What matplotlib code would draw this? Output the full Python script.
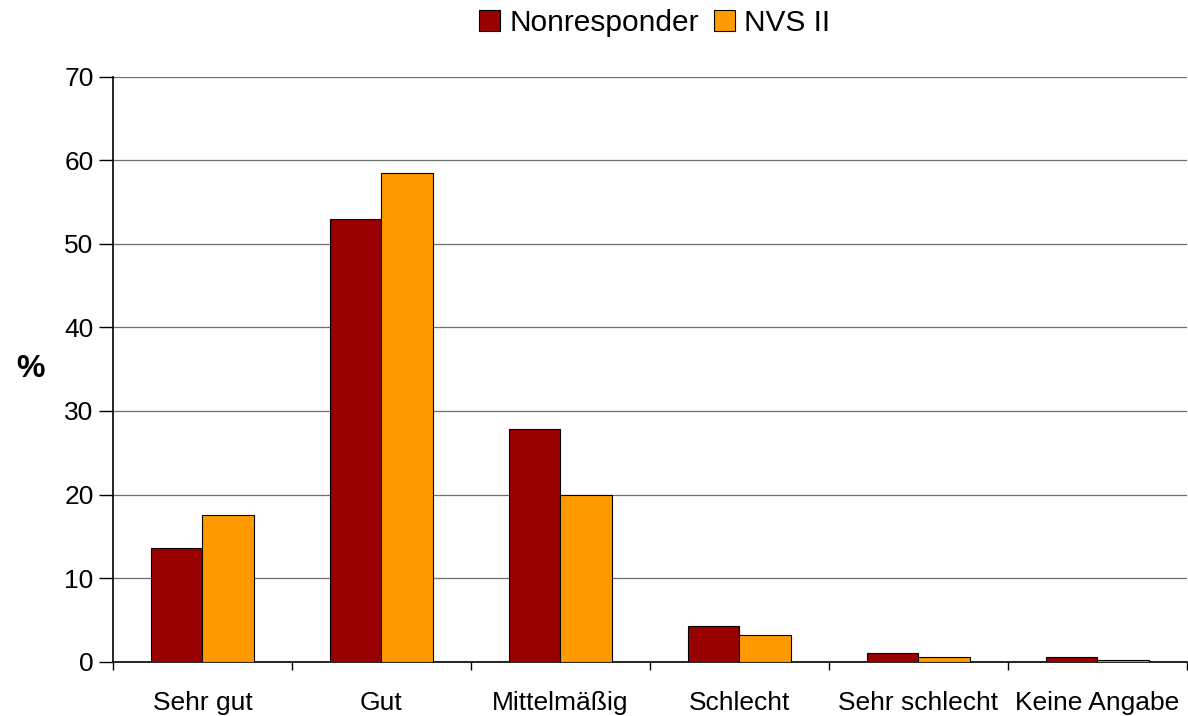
import matplotlib.pyplot as plt
import numpy as np
from matplotlib.patches import Patch

plt.rcParams['font.family'] = ['Liberation Sans', 'DejaVu Sans']

categories = ['Sehr gut', 'Gut', 'Mittelmäßig', 'Schlecht', 'Sehr schlecht', 'Keine Angabe']
nonresponder = [13.6, 53.0, 27.9, 4.3, 1.05, 0.5]
nvs2 = [17.5, 58.5, 20.0, 3.2, 0.5, 0.2]
series_names = ['Nonresponder', 'NVS II']
colors = ['#990000', '#FF9900']

fig = plt.figure(figsize=(11.88, 7.16), dpi=100)
ax = fig.add_axes([0.0951, 0.0761, 0.904, 0.8164])

x = np.arange(len(categories))
w = 0.287
ax.bar(x - w / 2, nonresponder, w, color=colors[0], edgecolor='black', linewidth=0.8, zorder=3)
ax.bar(x + w / 2, nvs2, w, color=colors[1], edgecolor='black', linewidth=0.8, zorder=3)

ax.set_xlim(-0.5, len(categories) - 0.5)
ax.set_ylim(0, 70)
ax.set_yticks(range(0, 71, 10))
ax.yaxis.grid(True, color='#6e6e6e', linewidth=0.9, zorder=0)
ax.set_axisbelow(True)

# category boundary ticks, labels centred under groups
ax.set_xticks(np.arange(-0.5, len(categories)), minor=False)
ax.set_xticklabels([])
ax.set_xticks(x, minor=True)
ax.set_xticklabels(categories, minor=True)
ax.tick_params(axis='x', which='major', length=6, width=1, direction='out')
ax.tick_params(axis='x', which='minor', length=0, pad=21, labelsize=19)
ax.tick_params(axis='y', length=10, width=1, labelsize=19, pad=4)

for s in ['top', 'right']:
    ax.spines[s].set_visible(False)
ax.spines['left'].set_linewidth(1.2)
ax.spines['bottom'].set_linewidth(1.2)

ax.set_ylabel('%', fontsize=23, fontweight='bold', rotation=0, labelpad=24, va='center')

handles = [Patch(facecolor=c, edgecolor='black', linewidth=0.8) for c in colors]
fig.legend(handles, series_names, loc='center', bbox_to_anchor=(0.551, 0.968), ncol=2,
           frameon=False, fontsize=21.5, handlelength=0.7, handleheight=0.7,
           handletextpad=0.3, columnspacing=0.5)

fig.savefig('out.png', dpi=100)
